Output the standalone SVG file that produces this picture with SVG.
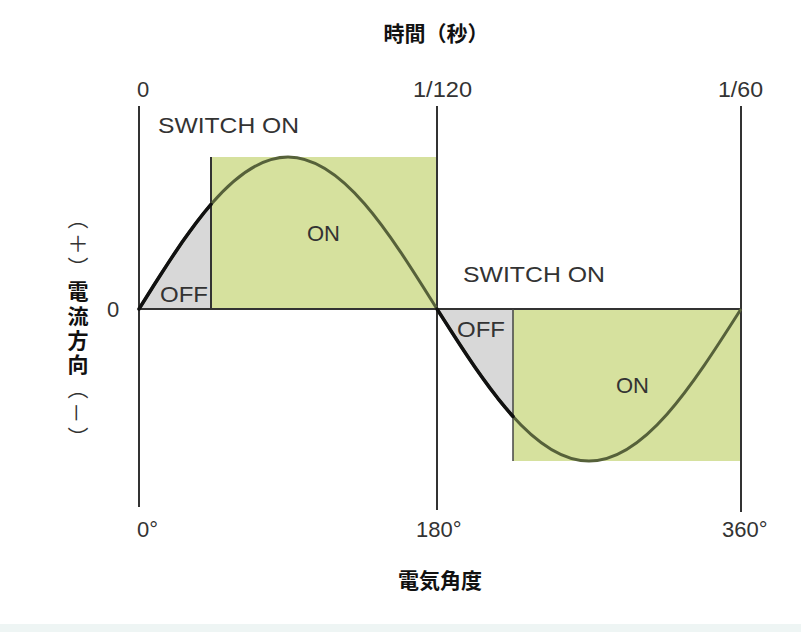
<svg xmlns="http://www.w3.org/2000/svg" width="801" height="632" viewBox="0 0 801 632">
<style>
.lat{font-family:"Liberation Sans",Arial,sans-serif;font-size:22px;fill:#333}
.cjk{font-family:"Noto Sans CJK JP","Noto Sans CJK SC",sans-serif;font-weight:bold;font-size:21px;fill:#111}
.axis{stroke:#333;stroke-width:2;fill:none}
.on{fill:#d6e19e}
.off{fill:#d8d8d8}
.wave{stroke:#56613a;stroke-width:3;fill:none}
.wbk{stroke:#111;stroke-width:3.5;fill:none;stroke-linejoin:round;stroke-linecap:round}
</style>
<rect x="0" y="0" width="801" height="632" fill="#fff"/>
<rect x="0" y="624" width="801" height="8" fill="#eef5f4"/>

<g id="on1"><rect class="on" x="211" y="157" width="226" height="152"/></g>
<g id="on2"><rect class="on" x="513" y="309" width="228" height="152"/></g>
<g id="off1"><polygon class="off" points="139,309 146.2,297.5 153.4,286 160.6,274.7 167.8,263.6 175,252.7 182.2,242.1 189.4,232 196.6,222.3 203.8,213 211,204.4 211,309"/></g>
<g id="off2"><polygon class="off" points="437,309 444.6,320.9 452.2,332.8 459.8,344.5 467.4,356 475,367.2 482.6,378 490.2,388.4 497.8,398.3 505.4,407.7 513,416.5 513,309"/></g>

<g id="axes">
<line class="axis" x1="139" y1="106" x2="139" y2="507"/>
<line class="axis" x1="437" y1="106" x2="437" y2="510"/>
<line class="axis" x1="741" y1="106" x2="741" y2="512"/>
<line class="axis" x1="139" y1="309" x2="741" y2="309"/>
<line class="axis" x1="211" y1="157" x2="211" y2="309"/>
<line x1="513" y1="309" x2="513" y2="461" stroke="#444" stroke-width="1.5"/>
</g>

<g id="wave">
<path class="wave" d="M139,309 C187.6,231.1 234.1,157 288,157 C341.9,157 388.4,231.1 437,309 C486.6,386.9 534,461 589,461 C644,461 691.4,386.9 741,309"/>
<polyline class="wbk" points="139,309 146.2,297.5 153.4,286 160.6,274.7 167.8,263.6 175,252.7 182.2,242.1 189.4,232 196.6,222.3 203.8,213 211,204.4"/>
<polyline class="wbk" points="437,309 444.6,320.9 452.2,332.8 459.8,344.5 467.4,356 475,367.2 482.6,378 490.2,388.4 497.8,398.3 505.4,407.7 513,416.5"/>
</g>

<g id="labels">
<text class="cjk" x="436" y="41" text-anchor="middle">時間（秒）</text>
<text class="cjk" x="440" y="588" text-anchor="middle">電気角度</text>
<text class="lat" x="137" y="97">0</text>
<text class="lat" x="413" y="97" textLength="59" lengthAdjust="spacingAndGlyphs">1/120</text>
<text class="lat" x="718" y="97" textLength="45" lengthAdjust="spacingAndGlyphs">1/60</text>
<text class="lat" x="158" y="133" textLength="141" lengthAdjust="spacingAndGlyphs">SWITCH ON</text>
<text class="lat" x="463" y="282" textLength="142" lengthAdjust="spacingAndGlyphs">SWITCH ON</text>
<text class="lat" x="307" y="241" textLength="33" lengthAdjust="spacingAndGlyphs">ON</text>
<text class="lat" x="616" y="393" textLength="33" lengthAdjust="spacingAndGlyphs">ON</text>
<text class="lat" x="160" y="302" textLength="48" lengthAdjust="spacingAndGlyphs">OFF</text>
<text class="lat" x="457" y="337" textLength="48" lengthAdjust="spacingAndGlyphs">OFF</text>
<text class="lat" x="113" y="317" text-anchor="middle">0</text>
<text class="lat" x="137" y="537">0°</text>
<text class="lat" x="416" y="537">180°</text>
<text class="lat" x="722" y="537">360°</text>
<text x="78" y="208" writing-mode="vertical-rl" font-family="'Noto Sans CJK JP','Noto Sans CJK SC',sans-serif" font-size="21" letter-spacing="3.3" fill="#333"><tspan>（＋）</tspan><tspan font-weight="bold" fill="#111">電流方向</tspan><tspan>（－）</tspan></text>
</g>
</svg>
